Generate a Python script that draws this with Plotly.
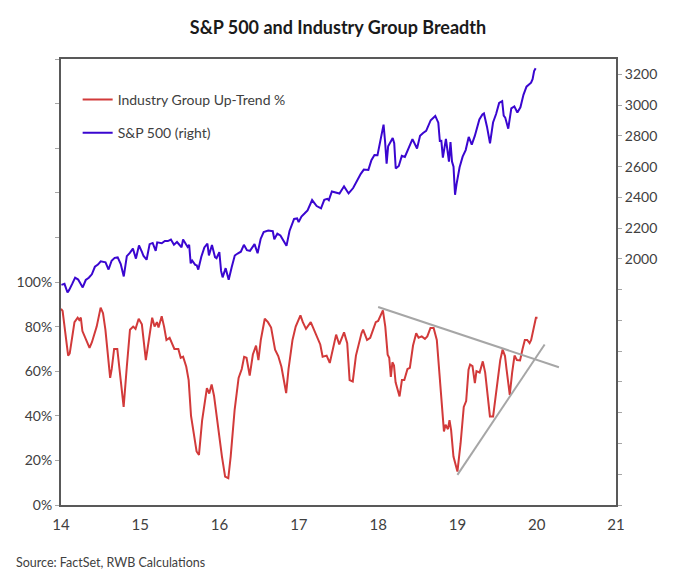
import pandas as pd
import plotly.graph_objects as go

# ---------------- data ----------------
spx_dates = [
    "2014-01-03","2014-01-17","2014-01-31","2014-02-07","2014-02-21","2014-03-07","2014-03-21","2014-04-11","2014-04-25",
    "2014-05-09","2014-05-23","2014-06-06","2014-06-20","2014-07-03","2014-07-25","2014-08-08","2014-08-22","2014-09-05",
    "2014-09-19","2014-10-03","2014-10-17","2014-10-31","2014-11-14","2014-11-28","2014-12-12","2014-12-26",
    "2015-01-09","2015-01-16","2015-01-30","2015-02-13","2015-02-27","2015-03-13","2015-03-20","2015-04-10","2015-04-24",
    "2015-05-08","2015-05-22","2015-06-05","2015-06-19","2015-07-10","2015-07-17","2015-08-07","2015-08-14","2015-08-21",
    "2015-08-28","2015-09-11","2015-09-18","2015-09-25","2015-10-09","2015-10-23","2015-11-06","2015-11-13","2015-11-27",
    "2015-12-11","2015-12-18","2015-12-31",
    "2016-01-08","2016-01-15","2016-01-29","2016-02-12","2016-02-26","2016-03-11","2016-03-24","2016-04-08","2016-04-22",
    "2016-05-06","2016-05-20","2016-06-10","2016-06-24","2016-07-08","2016-07-22","2016-08-12","2016-09-02","2016-09-09",
    "2016-09-23","2016-10-07","2016-11-04","2016-11-18","2016-12-09","2016-12-23","2016-12-30",
    "2017-01-13","2017-01-27","2017-02-10","2017-03-03","2017-03-24","2017-04-13","2017-04-28","2017-05-12","2017-05-19",
    "2017-06-02","2017-06-16","2017-07-07","2017-07-28","2017-08-11","2017-08-18","2017-09-08","2017-09-29","2017-10-13",
    "2017-10-27","2017-11-10","2017-11-17","2017-12-01","2017-12-15","2017-12-29",
    "2018-01-12","2018-01-26","2018-02-02","2018-02-09","2018-02-16","2018-03-09","2018-03-16","2018-03-23","2018-04-06",
    "2018-04-20","2018-05-04","2018-05-18","2018-06-08","2018-06-29","2018-07-13","2018-07-27","2018-08-10","2018-08-31",
    "2018-09-21","2018-10-05","2018-10-12","2018-10-19","2018-10-26","2018-11-09","2018-11-23","2018-11-30","2018-12-07",
    "2018-12-14","2018-12-21","2018-12-28",
    "2019-01-11","2019-01-25","2019-02-08","2019-02-22","2019-03-08","2019-03-22","2019-04-12","2019-04-26","2019-05-03",
    "2019-05-17","2019-05-31","2019-06-14","2019-06-28","2019-07-12","2019-07-26","2019-08-02","2019-08-09","2019-08-23",
    "2019-09-06","2019-09-20","2019-10-04","2019-10-18","2019-11-01","2019-11-15","2019-11-29","2019-12-06","2019-12-13",
    "2019-12-20","2019-12-27",
]
spx_values = [
    1831, 1838, 1782, 1797, 1836, 1878, 1866, 1815, 1863,
    1878, 1900, 1949, 1963, 1985, 1978, 1931, 1988, 2007,
    2010, 1967, 1886, 2018, 2039, 2067, 2002, 2088,
    2044, 2019, 1995, 2096, 2104, 2053, 2108, 2102, 2117,
    2116, 2126, 2092, 2110, 2076, 2127, 2078, 2092, 1971,
    1989, 1961, 1958, 1931, 2014, 2075, 2099, 2023, 2090,
    2012, 2005, 2044,
    1922, 1880, 1940, 1865, 1948, 2022, 2035, 2047, 2092,
    2057, 2052, 2096, 2037, 2130, 2175, 2184, 2180, 2128,
    2165, 2153, 2085, 2182, 2260, 2263, 2239,
    2275, 2295, 2316, 2383, 2344, 2329, 2384, 2391, 2382,
    2439, 2433, 2425, 2472, 2441, 2426, 2461, 2519, 2553,
    2581, 2582, 2579, 2642, 2676, 2674,
    2786, 2873, 2762, 2620, 2732, 2786, 2752, 2588, 2604,
    2670, 2663, 2713, 2779, 2718, 2801, 2819, 2833, 2902,
    2930, 2886, 2767, 2768, 2659, 2781, 2633, 2760, 2633,
    2600, 2417, 2486,
    2596, 2665, 2708, 2793, 2743, 2800, 2907, 2940, 2946,
    2860, 2752, 2887, 2942, 3014, 3026, 2932, 2919, 2847,
    2979, 2992, 2952, 2986, 3067, 3120, 3141, 3146, 3169,
    3221, 3240,
]

breadth_x = [
    14.00, 14.02, 14.09, 14.11, 14.17, 14.21, 14.23, 14.25, 14.27, 14.32, 14.36, 14.39, 14.42, 14.45, 14.50,
    14.53, 14.56, 14.62, 14.64, 14.67, 14.71, 14.79, 14.83, 14.87, 14.91, 14.94, 14.98, 15.02, 15.07, 15.11,
    15.15, 15.18, 15.21, 15.23, 15.27, 15.30, 15.33, 15.37, 15.40, 15.43, 15.48, 15.51, 15.54, 15.58, 15.61,
    15.64, 15.71, 15.74, 15.78, 15.84, 15.87, 15.90, 15.93, 15.96, 15.98, 16.03, 16.07, 16.11, 16.14, 16.19,
    16.24, 16.28, 16.31, 16.34, 16.38, 16.42, 16.46, 16.49, 16.52, 16.57, 16.61, 16.65, 16.70, 16.74, 16.78,
    16.84, 16.87, 16.92, 16.96, 17.02, 17.05, 17.09, 17.15, 17.18, 17.22, 17.27, 17.30, 17.35, 17.39, 17.43,
    17.47, 17.51, 17.57, 17.61, 17.64, 17.68, 17.72, 17.79, 17.81, 17.86, 17.90, 17.93, 17.97, 18.00, 18.06,
    18.09, 18.12, 18.14, 18.16, 18.18, 18.20, 18.22, 18.27, 18.30, 18.33, 18.37, 18.40, 18.44, 18.48, 18.51,
    18.55, 18.59, 18.62, 18.66, 18.70, 18.74, 18.78, 18.81, 18.83, 18.85, 18.88, 18.90, 18.92, 18.95, 19.00,
    19.04, 19.08, 19.11, 19.14, 19.16, 19.19, 19.22, 19.24, 19.28, 19.32, 19.35, 19.37, 19.41, 19.45, 19.50,
    19.54, 19.57, 19.60, 19.62, 19.66, 19.69, 19.72, 19.75, 19.79, 19.82, 19.85, 19.88, 19.91, 19.93, 19.96,
    19.99, 20.01,
]
breadth_values = [
    88, 87, 67, 68, 82, 84, 83, 84, 78, 74, 70.5, 73, 77, 80, 88.5,
    86, 78.6, 57, 61, 70, 70, 44, 62, 78.6, 80, 79, 83.5, 81, 65, 75,
    84, 80, 82, 79.6, 84.6, 80, 74, 75, 72.6, 70, 70, 66, 66.5, 62, 56,
    40, 24, 22.5, 38, 52.4, 50, 54, 49, 40, 36.6, 21.7, 12.7, 12, 21.7, 42.7,
    57, 61, 66.4, 66, 58, 67.5, 71.5, 65, 74, 83.5, 82, 79.6, 69.7, 66.8, 62,
    50.2, 61, 74, 80, 85, 82, 79, 82, 79.6, 76.6, 72, 66.5, 67, 63.7, 69.6,
    76.4, 72, 77.4, 72.6, 56, 55.4, 67, 77, 78.6, 74, 75, 78, 82, 82.5, 87.3,
    80, 67.4, 66, 57.4, 64, 62.5, 55, 48.7, 56, 56, 61, 61.5, 71.5, 77, 75,
    75.6, 74.5, 75.6, 79.4, 79.4, 74, 56, 39.7, 33, 36, 34, 38, 33.7, 21.7, 15,
    27.7, 44, 46.6, 60.7, 63, 62.3, 54.7, 60, 59.4, 64.4, 59.4, 52, 39.7, 39.7, 54,
    65, 69.7, 66.8, 60.7, 49.4, 59.4, 67, 65, 64.8, 69.7, 74, 74, 72.6, 74, 78.6,
    84, 84,
]

# hand-drawn trend lines on the breadth series (year, %)
resist_x = [18.00, 20.28]
resist_y = [88.8, 61.8]
support_x = [19.00, 20.10]
support_y = [13.5, 72.0]

left_ticks = [0, 20, 40, 60, 80, 100, 120, 140, 160, 180, 200]
left_labels = ["0%", "20%", "40%", "60%", "80%", "100%", "", "", "", "", ""]
right_ticks = list(range(400, 3201, 200))
right_labels = [str(v) if v >= 2000 else "" for v in right_ticks]
x_ticks = [14, 15, 16, 17, 18, 19, 20, 21]
x_labels = ["14", "15", "16", "17", "18", "19", "20", "21"]

# ---------------- figure ----------------
d = pd.to_datetime(pd.Series(spx_dates))
spx_x = (d.dt.year - 2000 + (d.dt.dayofyear - 1) / 365.0).tolist()

FONT = "Lato, 'Open Sans', sans-serif"
TXT = "#404040"
FRAME = "#595959"

fig = go.Figure()
fig.add_trace(go.Scatter(
    x=breadth_x, y=breadth_values, mode="lines", name="Industry Group Up-Trend %",
    line=dict(color="#d23a3a", width=2), legendgroup="a", yaxis="y"))
fig.add_trace(go.Scatter(
    x=spx_x, y=spx_values, mode="lines", name="S&P 500 (right)",
    line=dict(color="#3a06d0", width=2), legendgroup="b", yaxis="y2"))
fig.add_trace(go.Scatter(
    x=resist_x, y=resist_y, mode="lines", showlegend=False,
    line=dict(color="#a6a6a6", width=2), yaxis="y", hoverinfo="skip"))
fig.add_trace(go.Scatter(
    x=support_x, y=support_y, mode="lines", showlegend=False,
    line=dict(color="#a6a6a6", width=2), yaxis="y", hoverinfo="skip"))

# the page body adds an 8px margin, so the figure is sized to fit the window
fig.update_layout(
    width=671, height=576,
    margin=dict(l=53, r=63, t=51, b=79, autoexpand=False),
    paper_bgcolor="white", plot_bgcolor="white",
    font=dict(family=FONT, size=14, color=TXT),
    title=dict(text="<b>S&P 500 and Industry Group Breadth</b>",
               x=(338 - 8) / 671, xanchor="center", y=1 - 20 / 576, yanchor="middle", yref="container",
               automargin=False,
               font=dict(family=FONT, size=18, color="#1a1a1a")),
    showlegend=True,
    legend=dict(x=0.03, y=0.944, xanchor="left", yanchor="top",
                bgcolor="rgba(0,0,0,0)", tracegroupgap=12,
                font=dict(family=FONT, size=14, color=TXT), itemwidth=30),
    xaxis=dict(range=[14, 21], tickvals=x_ticks, ticktext=x_labels, automargin=False,
               showline=True, linecolor=FRAME, linewidth=2, mirror=True,
               showgrid=False, zeroline=False, ticks="outside", ticklen=5,
               tickcolor="rgba(0,0,0,0)", tickfont=dict(size=15, color=TXT)),
    yaxis=dict(range=[0, 200], tickvals=left_ticks, ticktext=left_labels, automargin=False,
               showline=True, linecolor=FRAME, linewidth=2,
               showgrid=False, zeroline=False, ticks="outside", ticklen=4,
               tickcolor="#a6a6a6", tickfont=dict(size=14, color=TXT)),
    yaxis2=dict(range=[400, 3300], tickvals=right_ticks, ticktext=right_labels, automargin=False,
                overlaying="y", side="right",
                showline=True, linecolor=FRAME, linewidth=2,
                showgrid=False, zeroline=False, ticks="outside", ticklen=4,
                tickcolor="#a6a6a6", tickfont=dict(size=14, color=TXT)),
    annotations=[dict(text="Source: FactSet, RWB Calculations", xref="paper", yref="paper",
                      x=-47 / 555, y=-(562 - 505) / 446, xanchor="left", yanchor="middle",
                      showarrow=False, font=dict(family=FONT, size=12.5, color=TXT))],
)

fig.write_html("out.html")
